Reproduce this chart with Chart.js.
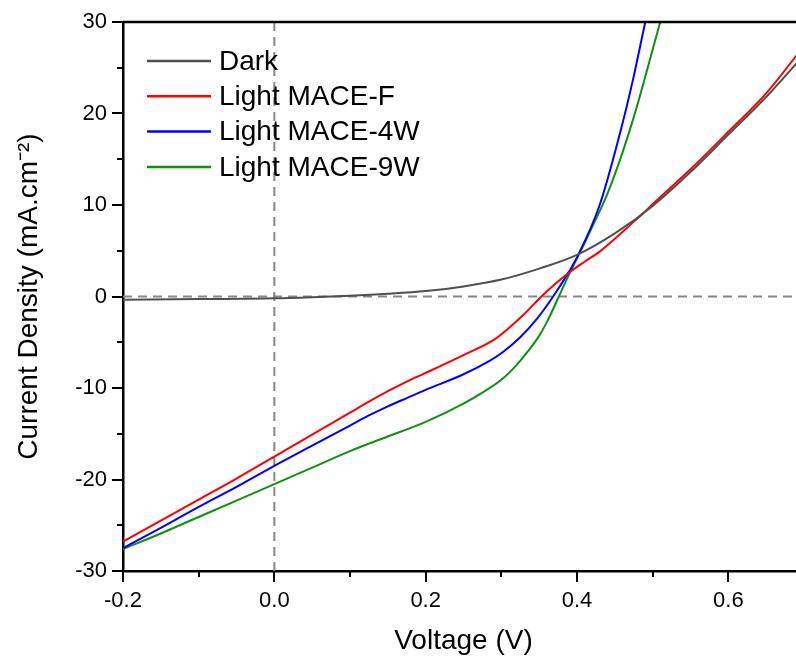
<!DOCTYPE html>
<html>
<head>
<meta charset="utf-8">
<script src="https://cdn.jsdelivr.net/npm/chart.js@4.4.1/dist/chart.umd.min.js"></script>
<style>
  html, body { margin: 0; padding: 0; background: #fff; overflow: hidden; }
  #wrap { width: 820px; height: 658px; }
</style>
</head>
<body>
<div id="wrap"><canvas id="jv" width="820" height="658"></canvas></div>
<script>
// J-V curves, voltage in V, current density in mA/cm2
const seriesNames = ["Dark", "Light MACE-F", "Light MACE-4W", "Light MACE-9W"];

const voltDark = [-0.2, -0.1, 0, 0.05, 0.1, 0.15, 0.2, 0.25, 0.3, 0.35, 0.4, 0.45, 0.5, 0.55, 0.6, 0.65, 0.7];
const curDark  = [-0.35, -0.28, -0.2, -0.08, 0.08, 0.3, 0.6, 1.1, 1.85, 3.05, 4.55, 6.9, 9.9, 13.6, 17.7, 21.8, 26.4];

const voltF = [-0.2, -0.15, -0.1, -0.05, 0, 0.05, 0.1, 0.125, 0.15, 0.175, 0.2, 0.25, 0.29, 0.31, 0.33, 0.353, 0.373, 0.391, 0.41, 0.43, 0.45, 0.47, 0.49, 0.5, 0.55, 0.6, 0.65, 0.7];
const curF  = [-26.8, -24.5, -22.2, -19.9, -17.5, -15.1, -12.7, -11.5, -10.35, -9.3, -8.35, -6.4, -4.75, -3.45, -1.95, 0, 1.5, 2.7, 3.8, 4.9, 6.3, 7.8, 9.3, 10.1, 13.9, 18.0, 22.2, 27.4];

const volt4W = [-0.2, -0.15, -0.1, -0.05, 0, 0.05, 0.1, 0.125, 0.15, 0.175, 0.2, 0.25, 0.285, 0.3, 0.325, 0.347, 0.3685, 0.39, 0.402, 0.43, 0.457, 0.474, 0.49, 0.5];
const cur4W  = [-27.5, -25.3, -23.0, -20.8, -18.5, -16.3, -14.1, -13.0, -12.0, -11.1, -10.2, -8.5, -7.0, -6.2, -4.45, -2.45, 0, 2.8, 4.6, 10.0, 17.9, 23.7, 29.9, 33.5];

const volt9W = [-0.2, -0.15, -0.1, -0.05, 0, 0.05, 0.1, 0.15, 0.2, 0.25, 0.275, 0.3, 0.32, 0.335, 0.35, 0.362, 0.376, 0.39, 0.402, 0.42, 0.44, 0.46, 0.48, 0.5, 0.51, 0.52];
const cur9W  = [-27.6, -25.9, -24.1, -22.3, -20.5, -18.7, -16.9, -15.3, -13.7, -11.7, -10.5, -9.1, -7.5, -6.0, -4.3, -2.5, 0, 2.5, 4.5, 7.6, 11.2, 15.7, 21.0, 27.0, 30.0, 33.0];

const seriesColors = ["#505050", "#ff0000", "#0000ff", "#109010"];

const FONT = "'Liberation Sans', Arial, sans-serif";

function toPoints(xs, ys) {
  return xs.map((x, i) => ({ x: x, y: ys[i] }));
}

const seriesData = [
  toPoints(voltDark, curDark),
  toPoints(voltF, curF),
  toPoints(volt4W, cur4W),
  toPoints(volt9W, cur9W)
];

// dashed guide lines through V = 0 and J = 0
const zeroLines = {
  id: "zeroLines",
  beforeDatasetsDraw(chart) {
    const { ctx, chartArea: a } = chart;
    const x0 = chart.scales.x.getPixelForValue(0);
    const y0 = chart.scales.y.getPixelForValue(0);
    ctx.save();
    ctx.strokeStyle = "#888888";
    ctx.lineWidth = 2;
    ctx.setLineDash([9, 6]);
    ctx.beginPath();
    ctx.moveTo(a.left, y0);
    ctx.lineTo(a.right, y0);
    ctx.moveTo(x0, a.top);
    ctx.lineTo(x0, a.bottom);
    ctx.stroke();
    ctx.restore();
  }
};

// outward tick marks (long for labelled, short for minor) and the frame
const frameTicks = {
  id: "frameTicks",
  afterDraw(chart) {
    const { ctx, chartArea: a } = chart;
    const xs = chart.scales.x, ys = chart.scales.y;
    ctx.save();
    ctx.strokeStyle = "#000";
    ctx.lineWidth = 2;
    ctx.beginPath();
    xs.ticks.forEach(t => {
      const p = Math.round(xs.getPixelForValue(t.value));
      const len = t.label ? 11 : 6;
      ctx.moveTo(p, a.bottom);
      ctx.lineTo(p, a.bottom + len);
    });
    ys.ticks.forEach(t => {
      const p = Math.round(ys.getPixelForValue(t.value));
      const len = t.label ? 11 : 6;
      ctx.moveTo(a.left - len, p);
      ctx.lineTo(a.left, p);
    });
    ctx.stroke();
    ctx.lineWidth = 2.5;
    ctx.beginPath();
    ctx.moveTo(a.left, a.top);
    ctx.lineTo(a.right, a.top);
    ctx.lineTo(a.right, a.bottom);
    ctx.stroke();
    ctx.restore();
  }
};

// legend drawn inside the plot, top left
const innerLegend = {
  id: "innerLegend",
  afterDraw(chart) {
    const ctx = chart.ctx;
    ctx.save();
    ctx.font = "28px " + FONT;
    ctx.textBaseline = "middle";
    ctx.textAlign = "left";
    chart.data.datasets.forEach((ds, i) => {
      const y = 61 + i * 35.3;
      ctx.strokeStyle = ds.borderColor;
      ctx.lineWidth = 2.5;
      ctx.beginPath();
      ctx.moveTo(147, y);
      ctx.lineTo(211, y);
      ctx.stroke();
      ctx.fillStyle = "#000";
      ctx.fillText(ds.label, 219, y + 1);
    });
    ctx.restore();
  }
};

new Chart(document.getElementById("jv"), {
  type: "line",
  data: {
    datasets: seriesNames.map((name, i) => ({
      label: name,
      data: seriesData[i],
      borderColor: seriesColors[i],
      backgroundColor: seriesColors[i],
      borderWidth: 2,
      pointRadius: 0,
      cubicInterpolationMode: "monotone",
      fill: false
    }))
  },
  options: {
    responsive: false,
    devicePixelRatio: 1,
    animation: false,
    layout: { padding: { top: 22, right: 16, left: 0, bottom: 0 } },
    plugins: {
      legend: { display: false },
      tooltip: { enabled: false }
    },
    scales: {
      x: {
        type: "linear",
        min: -0.2,
        max: 0.7,
        afterFit: s => { s.height = 87; s.paddingLeft = 0; s.paddingRight = 0; },
        grid: { drawOnChartArea: false, drawTicks: false },
        border: { color: "#000", width: 2.5 },
        ticks: {
          stepSize: 0.1,
          autoSkip: false,
          maxRotation: 0,
          padding: 17,
          color: "#000",
          font: { family: FONT, size: 22 },
          callback: v => Math.round(v * 10) % 2 === 0 ? (Math.abs(v) < 1e-9 ? 0 : v).toFixed(1) : ""
        },
        title: {
          display: true,
          text: "Voltage (V)",
          color: "#000",
          font: { family: FONT, size: 28 },
          padding: { top: 0, bottom: 0 }
        }
      },
      y: {
        min: -30,
        max: 30,
        afterFit: s => { s.width = 123; s.paddingTop = 0; s.paddingBottom = 0; },
        grid: { drawOnChartArea: false, drawTicks: false },
        border: { color: "#000", width: 2.5 },
        ticks: {
          stepSize: 5,
          autoSkip: false,
          padding: 16,
          color: "#000",
          font: { family: FONT, size: 22 },
          callback: v => v % 10 === 0 ? String(v) : ""
        },
        title: {
          display: true,
          text: "Current Density (mA.cm\u207B\u00B2)",
          color: "#000",
          font: { family: FONT, size: 28 },
          padding: { top: 12, bottom: 0 }
        }
      }
    }
  },
  plugins: [zeroLines, frameTicks, innerLegend]
});
</script>
</body>
</html>
